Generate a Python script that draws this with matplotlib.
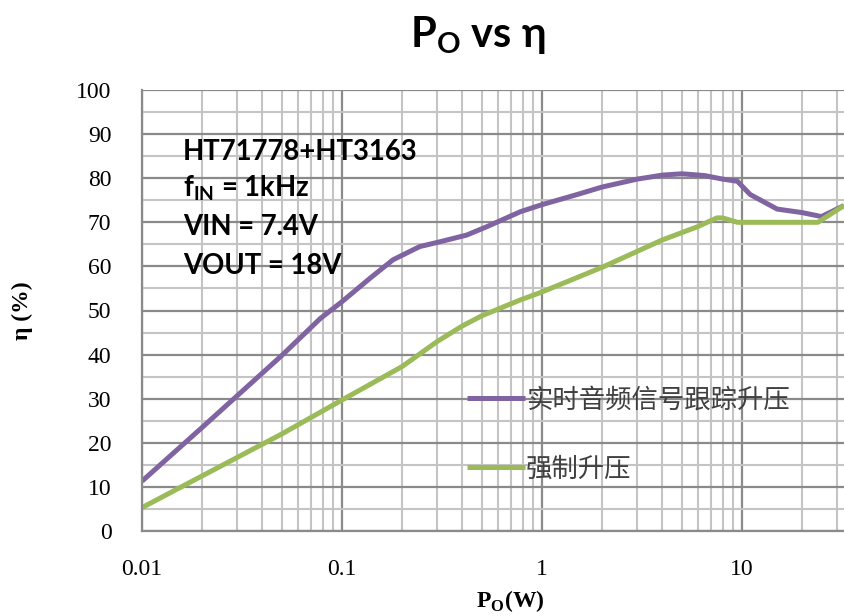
import matplotlib
matplotlib.use("Agg")
import matplotlib.pyplot as plt
from matplotlib.ticker import FixedLocator, NullFormatter

# ---- data ----
po_track = [0.01, 0.02, 0.05, 0.078, 0.1, 0.138, 0.18, 0.245, 0.31, 0.42, 0.53, 0.78,
            1.0, 1.5, 2.0, 3.0, 4.0, 5.0, 6.5, 8.0, 9.5, 11, 15, 20, 25, 32.4]
eff_track = [11.3, 23.5, 39.8, 48.2, 52, 57.3, 61.5, 64.5, 65.6, 67.1, 69, 72.4,
             74, 76.3, 78, 79.8, 80.7, 81, 80.6, 79.8, 79.3, 76.3, 73, 72.2, 71.3, 73.8]
po_forced = [0.01, 0.02, 0.05, 0.1, 0.2, 0.3, 0.4, 0.5, 0.78, 1.0, 2.0, 4.0,
             6.0, 7.5, 8.0, 9.5, 12, 20, 24, 32.4]
eff_forced = [5.3, 12.5, 22, 29.7, 37.3, 43, 46.5, 48.8, 52.4, 54.2, 59.8, 66,
              69, 71, 71, 70, 70, 70, 70, 73.8]
labels = ["实时音频信号跟踪升压", "强制升压"]
colors = ["#8064A2", "#9BBB59"]
xticks = [0.01, 0.1, 1, 10]
xticklabels = ["0.01", "0.1", "1", "10"]
yticks = list(range(0, 101, 10))

fig = plt.figure(figsize=(8.44, 6.16), dpi=100)
ax = fig.add_axes([142/844, 1-531/616, 1-142/844, (531-90)/616])

ax.plot(po_track, eff_track, color=colors[0], lw=3.6, label=labels[0],
        solid_capstyle="butt", solid_joinstyle="round")
ax.plot(po_forced, eff_forced, color=colors[1], lw=3.6, label=labels[1],
        solid_capstyle="butt", solid_joinstyle="round")

ax.set_xscale("log")
ax.set_xlim(0.01, 32.4)
ax.set_ylim(0, 100)
ax.xaxis.set_major_locator(FixedLocator(xticks))
ax.set_xticklabels(xticklabels)
minor_x = [m * 10.0**e for e in range(-2, 2) for m in range(2, 10)]
ax.xaxis.set_minor_locator(FixedLocator(minor_x))
ax.xaxis.set_minor_formatter(NullFormatter())
ax.yaxis.set_major_locator(FixedLocator(yticks))
ax.yaxis.set_minor_locator(FixedLocator([v + 5 for v in yticks[:-1]]))

ax.grid(which="major", color="#8a8a8a", lw=1.6)
ax.grid(which="minor", color="#c4c4c4", lw=1.5)
ax.set_axisbelow(True)
ax.tick_params(which="both", length=0)
ax.tick_params(axis="x", pad=20)
ax.tick_params(axis="y", pad=22)
for lab in ax.get_xticklabels() + ax.get_yticklabels():
    lab.set_family("Liberation Serif")
    lab.set_fontsize(17)
for s in ["top", "right"]:
    ax.spines[s].set_visible(False)
for s in ["left", "bottom"]:
    ax.spines[s].set_color("#8a8a8a")
    ax.spines[s].set_linewidth(1.6)

ax.set_ylabel("η (%)", family="Liberation Serif", fontweight="bold", fontsize=17, labelpad=31)
fig.text(510/844, 1-601/616, r"P$_\mathregular{O}$(W)", family="Liberation Serif",
         fontweight="bold", fontsize=17, ha="center", va="center")

fig.text(478/844, 1-35/616, r"P$_\mathregular{O}$ vs η", family="Lato", fontweight="bold",
         fontsize=30, ha="center", va="center")

notes = ["HT71778+HT3163", r"f$_\mathregular{IN}$ = 1kHz", "VIN = 7.4V", "VOUT = 18V"]
ys = [152, 188, 227, 266]
for t, y in zip(notes, ys):
    fig.text(183/844, 1-y/616, t, family="Lato", fontweight="bold", fontsize=19.8,
             ha="left", va="center", color="black")

leg = ax.legend(loc="upper left", bbox_to_anchor=((456-142)/(844-142), (531-376)/441),
                frameon=False, prop={"family": ["Noto Sans CJK SC", "DejaVu Sans"], "size": 19},
                handlelength=2.2, handletextpad=0.05, labelspacing=1.58, borderaxespad=0)
for t in leg.get_texts():
    t.set_color("#404040")

fig.savefig("out.png", dpi=100)
